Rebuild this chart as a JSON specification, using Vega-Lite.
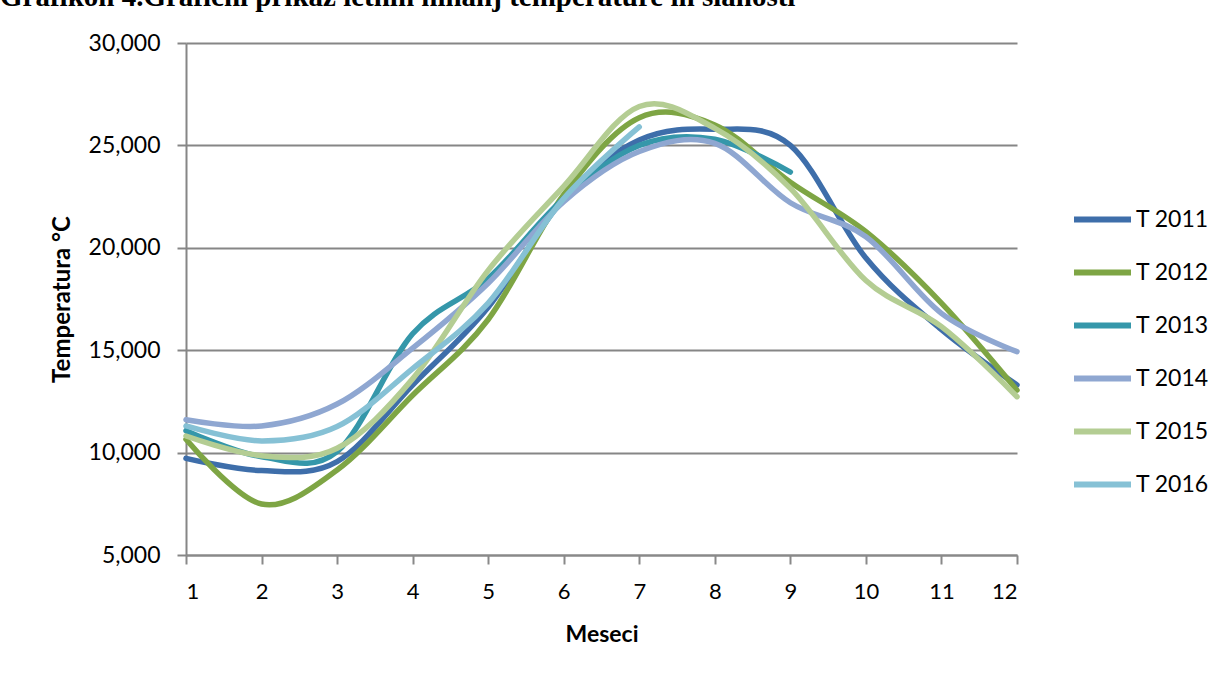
{
  "$schema": "https://vega.github.io/schema/vega-lite/v6.json",
  "width": 831,
  "height": 512,
  "autosize": {"type": "none"},
  "padding": {"left": 186, "top": 43, "right": 205, "bottom": 128},
  "background": "white",
  "title": {
    "text": "Grafikon 4.Grafični prikaz letnih nihanj temperature in slanosti",
    "anchor": "start",
    "frame": "group",
    "font": "Liberation Serif",
    "fontSize": 29,
    "fontWeight": "bold",
    "color": "black",
    "dx": -186,
    "offset": 0,
    "dy": -20
  },
  "config": {
    "view": {"stroke": null},
    "axis": {"labelFont": "Lato", "titleFont": "Lato", "labelColor": "#000000", "titleColor": "#000000"}
  },
  "data": {
    "values": [
      {"month": 1, "series": "T 2011", "temp": 9.72},
      {"month": 2, "series": "T 2011", "temp": 9.12},
      {"month": 3, "series": "T 2011", "temp": 9.56},
      {"month": 4, "series": "T 2011", "temp": 13.3},
      {"month": 5, "series": "T 2011", "temp": 17.1},
      {"month": 6, "series": "T 2011", "temp": 22.4},
      {"month": 7, "series": "T 2011", "temp": 25.26},
      {"month": 8, "series": "T 2011", "temp": 25.79},
      {"month": 9, "series": "T 2011", "temp": 25.0},
      {"month": 10, "series": "T 2011", "temp": 19.5},
      {"month": 11, "series": "T 2011", "temp": 16.0},
      {"month": 12, "series": "T 2011", "temp": 13.3},
      {"month": 1, "series": "T 2012", "temp": 10.65},
      {"month": 2, "series": "T 2012", "temp": 7.49},
      {"month": 3, "series": "T 2012", "temp": 9.15},
      {"month": 4, "series": "T 2012", "temp": 12.8},
      {"month": 5, "series": "T 2012", "temp": 16.5},
      {"month": 6, "series": "T 2012", "temp": 22.6},
      {"month": 7, "series": "T 2012", "temp": 26.35},
      {"month": 8, "series": "T 2012", "temp": 26.0},
      {"month": 9, "series": "T 2012", "temp": 23.2},
      {"month": 10, "series": "T 2012", "temp": 20.79},
      {"month": 11, "series": "T 2012", "temp": 17.3},
      {"month": 12, "series": "T 2012", "temp": 13.05},
      {"month": 1, "series": "T 2013", "temp": 11.07},
      {"month": 2, "series": "T 2013", "temp": 9.8},
      {"month": 3, "series": "T 2013", "temp": 10.05},
      {"month": 4, "series": "T 2013", "temp": 15.8},
      {"month": 5, "series": "T 2013", "temp": 18.5},
      {"month": 6, "series": "T 2013", "temp": 22.4},
      {"month": 7, "series": "T 2013", "temp": 25.0},
      {"month": 8, "series": "T 2013", "temp": 25.3},
      {"month": 9, "series": "T 2013", "temp": 23.7},
      {"month": 1, "series": "T 2014", "temp": 11.6},
      {"month": 2, "series": "T 2014", "temp": 11.3},
      {"month": 3, "series": "T 2014", "temp": 12.37},
      {"month": 4, "series": "T 2014", "temp": 15.1},
      {"month": 5, "series": "T 2014", "temp": 18.27},
      {"month": 6, "series": "T 2014", "temp": 22.25},
      {"month": 7, "series": "T 2014", "temp": 24.7},
      {"month": 8, "series": "T 2014", "temp": 25.1},
      {"month": 9, "series": "T 2014", "temp": 22.2},
      {"month": 10, "series": "T 2014", "temp": 20.54},
      {"month": 11, "series": "T 2014", "temp": 16.8},
      {"month": 12, "series": "T 2014", "temp": 14.93},
      {"month": 1, "series": "T 2015", "temp": 10.81},
      {"month": 2, "series": "T 2015", "temp": 9.85},
      {"month": 3, "series": "T 2015", "temp": 10.21},
      {"month": 4, "series": "T 2015", "temp": 13.6},
      {"month": 5, "series": "T 2015", "temp": 18.9},
      {"month": 6, "series": "T 2015", "temp": 23.0},
      {"month": 7, "series": "T 2015", "temp": 26.9},
      {"month": 8, "series": "T 2015", "temp": 25.83},
      {"month": 9, "series": "T 2015", "temp": 22.9},
      {"month": 10, "series": "T 2015", "temp": 18.4},
      {"month": 11, "series": "T 2015", "temp": 16.15},
      {"month": 12, "series": "T 2015", "temp": 12.73},
      {"month": 1, "series": "T 2016", "temp": 11.3},
      {"month": 2, "series": "T 2016", "temp": 10.57},
      {"month": 3, "series": "T 2016", "temp": 11.27},
      {"month": 4, "series": "T 2016", "temp": 14.1},
      {"month": 5, "series": "T 2016", "temp": 17.3},
      {"month": 6, "series": "T 2016", "temp": 22.4},
      {"month": 7, "series": "T 2016", "temp": 25.9}
    ]
  },
  "mark": {"type": "line", "interpolate": "cardinal", "tension": 0, "strokeWidth": 5.5, "strokeCap": "round", "strokeJoin": "round"},
  "encoding": {
    "x": {
      "field": "month",
      "type": "quantitative",
      "scale": {"domain": [1, 12], "nice": false, "zero": false},
      "axis": {
        "values": [1, 2, 3, 4, 5, 6, 7, 8, 9, 10, 11, 12],
        "format": "d",
        "grid": false,
        "domainColor": "#898989",
        "domainWidth": 2,
        "tickColor": "#898989",
        "tickWidth": 2,
        "tickSize": 9,
        "labelFontSize": 22,
        "labelPadding": 17,
        "title": "Meseci",
        "titleFontSize": 23,
        "titleFontWeight": "bold",
        "titlePadding": 21
      }
    },
    "y": {
      "field": "temp",
      "type": "quantitative",
      "scale": {"domain": [5, 30], "nice": false, "zero": false},
      "axis": {
        "values": [5, 10, 15, 20, 25, 30],
        "labelExpr": "replace(format(datum.value, '.3f'), '.', ',')",
        "grid": true,
        "gridColor": "#868686",
        "gridWidth": 2,
        "domainColor": "#868686",
        "domainWidth": 2,
        "tickColor": "#868686",
        "tickWidth": 2,
        "tickSize": 9,
        "labelFontSize": 23,
        "labelPadding": 17,
        "title": "Temperatura °C",
        "titleFontSize": 24,
        "titleFontWeight": "bold",
        "titlePadding": 14
      }
    },
    "color": {
      "field": "series",
      "type": "nominal",
      "scale": {
        "domain": ["T 2011", "T 2012", "T 2013", "T 2014", "T 2015", "T 2016"],
        "range": ["#3E6EAA", "#7EA544", "#3597AA", "#8FA7D1", "#B4CD93", "#86C1D5"]
      },
      "legend": {
        "title": null,
        "orient": "none",
        "legendX": 885,
        "legendY": 145,
        "symbolType": "stroke",
        "symbolSize": 3249,
        "symbolStrokeWidth": 6,
        "labelFont": "Lato",
        "labelFontSize": 23,
        "labelColor": "#000000",
        "labelOffset": 2,
        "rowPadding": 9
      }
    }
  }
}
